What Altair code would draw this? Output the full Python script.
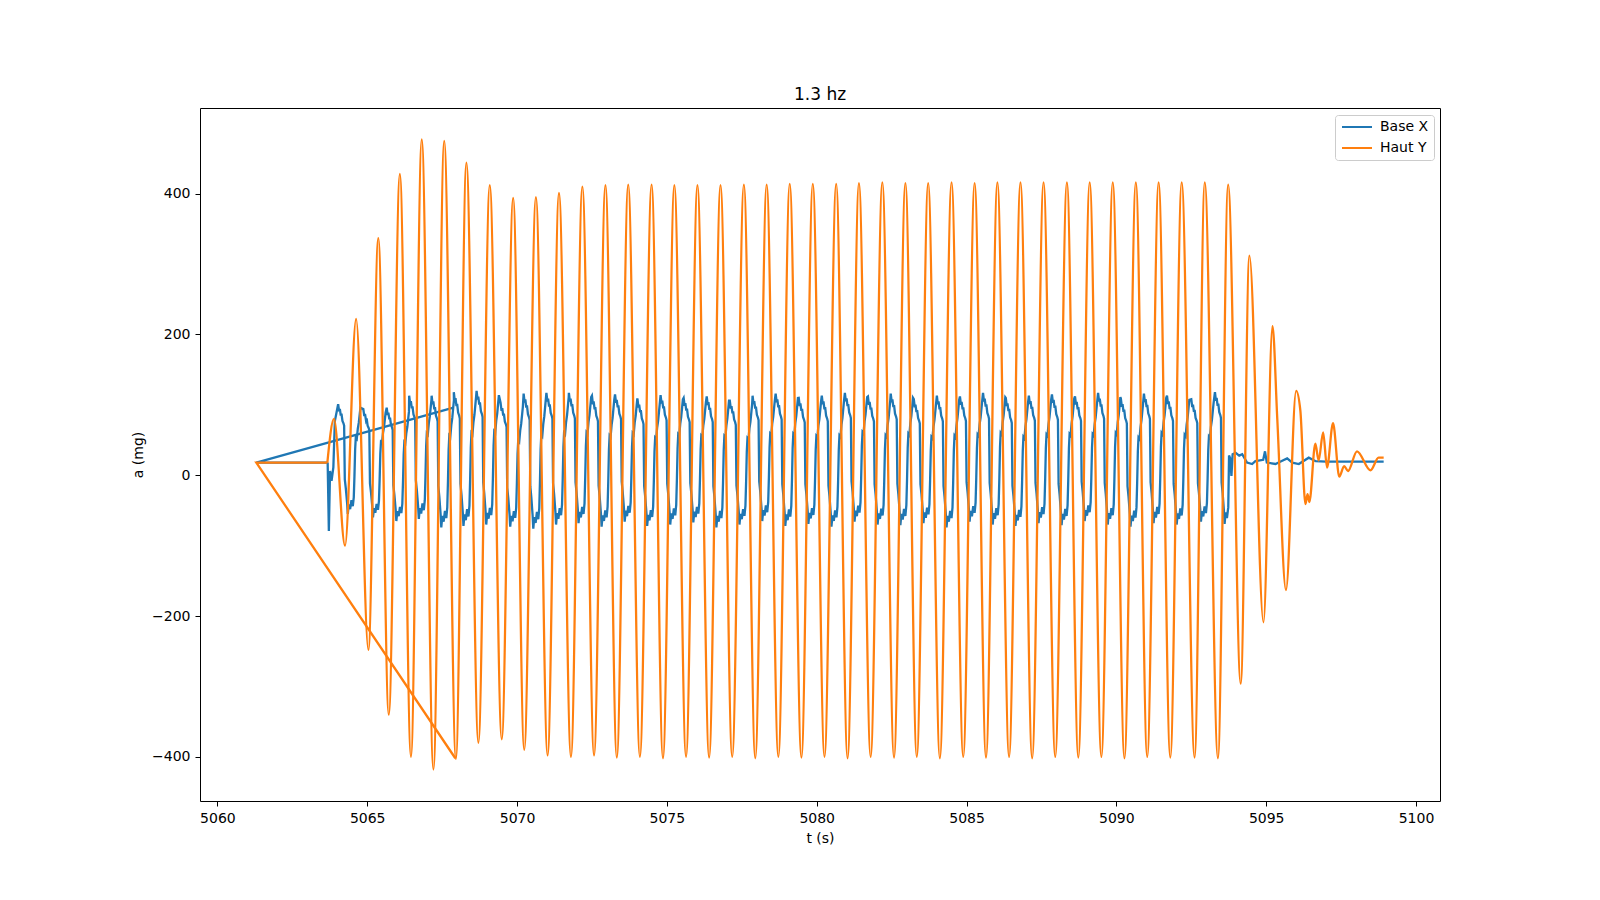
import numpy as np
import pandas as pd
import altair as alt

# axis limits and ticks (matplotlib default 5% margins)
X_LIMITS = [5059.42, 5100.80]
Y_LIMITS = [-462.75, 521.75]
X_TICKS = [5060, 5065, 5070, 5075, 5080, 5085, 5090, 5095, 5100]
Y_TICKS = [-400, -200, 0, 200, 400]

# "Haut Y": extremes of the oscillation
HAUT_T = [5063.67, 5063.89, 5064.26, 5064.63, 5065.04, 5065.37, 5065.72, 5066.09,
          5066.46, 5066.82, 5067.21, 5067.57, 5067.96, 5068.31, 5068.71, 5069.09,
          5069.49, 5069.87, 5070.24, 5070.63, 5071.02, 5071.40, 5071.80, 5072.18,
          5072.57, 5072.95, 5073.33, 5073.71, 5074.10, 5074.49, 5074.87, 5075.25,
          5075.64, 5076.02, 5076.41, 5076.79, 5077.18, 5077.57, 5077.95, 5078.33,
          5078.72, 5079.10, 5079.49, 5079.87, 5080.26, 5080.65, 5081.03, 5081.41,
          5081.80, 5082.19, 5082.58, 5082.96, 5083.34, 5083.72, 5084.11, 5084.50,
          5084.89, 5085.27, 5085.65, 5086.03, 5086.42, 5086.80, 5087.19, 5087.57,
          5087.96, 5088.35, 5088.73, 5089.11, 5089.50, 5089.88, 5090.27, 5090.65,
          5091.03, 5091.41, 5091.80, 5092.18, 5092.61, 5092.95, 5093.39, 5093.73,
          5094.15, 5094.44, 5094.91, 5095.21, 5095.37, 5095.66, 5096.00, 5096.14,
          5096.31, 5096.38, 5096.44, 5096.64, 5096.75, 5096.90, 5097.03, 5097.23,
          5097.44, 5097.60, 5097.73, 5098.03, 5098.48, 5098.75, 5098.92]
HAUT_A = [18, 80, -100, 222, -248, 337, -340, 428,
          -400, 477, -418, 475, -403, 444, -380, 412,
          -375, 394, -390, 395, -398, 401, -400, 410,
          -398, 412, -401, 413, -400, 413, -402, 412,
          -400, 412, -401, 412, -400, 413, -402, 413,
          -400, 414, -401, 414, -400, 414, -402, 415,
          -400, 416, -401, 415, -400, 415, -402, 416,
          -400, 415, -401, 416, -400, 416, -402, 416,
          -400, 416, -401, 416, -400, 416, -402, 416,
          -400, 416, -401, 416, -401, 416, -402, 413,
          -296, 312, -209, 212, 80, -163, 120, 92,
          -41, -27, -38, 45, 21, 61, 11, 74,
          -2, 13, 6, 34, 7, 25, 25]
# the stray jump back to the start of the record
HAUT_JUMP_T = [5067.94, 5061.30, 5063.67]
HAUT_JUMP_A = [-402, 18, 18]

# "Base X": lead-in, one cycle's shape, per-cycle peak times / highs / lows, tail
BASE_LEAD_T = [5063.68, 5063.72, 5063.76, 5063.81, 5063.87, 5063.92]
BASE_LEAD_A = [18, -79, 6, -8, 11, 77]
SHAPE_DT = [0, .033, .056, .089, .111, .144, .178, .2, .222, .256, .3, .322,
            .356, .4, .444, .489, .522, .544, .567, .589, .622, .656, .689, .722, .744]
SHAPE_A = [116, 104, 108, 97, 100, 88, 84, 80, -10, -25, -50, -68,
           -52, -60, -45, -55, -40, -5, 40, 60, 58, 75, 85, 100, 110]
BASE_PEAK_T = [5064.03, 5064.87, 5065.65, 5066.40, 5067.15, 5067.89, 5068.65, 5069.45,
               5070.22, 5070.98, 5071.73, 5072.50, 5073.27, 5074.02, 5074.79, 5075.56,
               5076.33, 5077.10, 5077.86, 5078.63, 5079.40, 5080.17, 5080.94, 5081.71,
               5082.47, 5083.24, 5084.01, 5084.78, 5085.55, 5086.31, 5087.08, 5087.85,
               5088.62, 5089.39, 5090.15, 5090.92, 5091.69, 5092.50, 5093.29]
BASE_HIGH = [101, 94, 96, 113, 113, 118, 120, 103, 116, 117, 117, 113, 115, 108,
             114, 110, 112, 106, 113, 116, 110, 113, 117, 112, 116, 108, 113, 112,
             117, 110, 113, 115, 112, 117, 109, 116, 113, 108, 118]
BASE_LOW = [-55, -60, -65, -62, -74, -72, -70, -73, -76, -70, -68, -73, -66, -72,
            -70, -67, -74, -70, -65, -72, -69, -73, -66, -70, -71, -68, -74, -66,
            -70, -72, -68, -71, -65, -70, -73, -68, -70, -66, -69]
BASE_TAIL_T = [5093.76, 5093.80, 5093.84, 5093.88, 5093.98, 5094.10, 5094.20, 5094.36,
               5094.53, 5094.64, 5094.90, 5094.96, 5095.02, 5095.31, 5095.50, 5095.70,
               5095.87, 5096.09, 5096.42, 5096.65, 5097.00, 5098.92]
BASE_TAIL_A = [28, 24, -1, 30, 32, 28, 30, 18,
               16, 20, 22, 34, 18, 16, 20, 24,
               18, 16, 25, 20, 19.5, 19.5]
BASE_JUMP_T = [5067.88, 5061.30, 5063.68]
BASE_JUMP_A = [96, 18, 18]

# build the Base X trace from the cycle shape
smin, smax = min(SHAPE_A), max(SHAPE_A)
base_t = list(BASE_LEAD_T)
base_a = list(BASE_LEAD_A)
for k, (p, hi, lo) in enumerate(zip(BASE_PEAK_T, BASE_HIGH, BASE_LOW)):
    last = k == len(BASE_PEAK_T) - 1
    for dt, s in zip(SHAPE_DT, SHAPE_A):
        if last and dt > 0.45:
            break
        base_t.append(p + dt)
        base_a.append(lo + (s - smin) / (smax - smin) * (hi - lo))
base_t += BASE_TAIL_T
base_a += BASE_TAIL_A


def frame(t, a, series, part):
    return pd.DataFrame({"t": t, "a": a, "series": series, "part": part,
                         "i": np.arange(len(t))})


data = pd.concat([
    frame(base_t, base_a, "Base X", "main"),
    frame(BASE_JUMP_T, BASE_JUMP_A, "Base X", "jump"),
    frame(HAUT_T, HAUT_A, "Haut Y", "main"),
    frame(HAUT_JUMP_T, HAUT_JUMP_A, "Haut Y", "jump"),
], ignore_index=True)

x_axis = alt.X("t:Q", title="t (s)",
               scale=alt.Scale(domain=X_LIMITS, nice=False, zero=False),
               axis=alt.Axis(values=X_TICKS, format="d", grid=False))
y_axis = alt.Y("a:Q", title="a (mg)",
               scale=alt.Scale(domain=Y_LIMITS, nice=False, zero=False),
               axis=alt.Axis(values=Y_TICKS, format="d", grid=False))
color = alt.Color("series:N",
                  scale=alt.Scale(domain=["Base X", "Haut Y"],
                                  range=["#1f77b4", "#ff7f0e"]),
                  legend=alt.Legend(title=None, orient="none", legendX=1135, legendY=7,
                                    symbolType="M-1,0H5", symbolStrokeWidth=2,
                                    symbolSize=100, labelOffset=26,
                                    labelFontSize=14, labelFont="DejaVu Sans",
                                    labelColor="black", fillColor="white",
                                    strokeColor="#cccccc", padding=5,
                                    cornerRadius=3, rowPadding=7))

base = alt.Chart(data).encode(x=x_axis, y=y_axis, color=color, order="i:Q")


def part(series, kind, interp):
    return base.transform_filter(
        (alt.datum.series == series) & (alt.datum.part == kind)
    ).mark_line(strokeWidth=2.3, interpolate=interp)


chart = alt.layer(
    part("Base X", "main", "linear"),
    part("Base X", "jump", "linear"),
    part("Haut Y", "main", "monotone"),
    part("Haut Y", "jump", "linear"),
).properties(
    width=1240, height=693,
    title=alt.TitleParams("1.3 hz", fontSize=17, font="DejaVu Sans",
                          fontWeight="normal", offset=4, anchor="middle", color="black"),
    autosize=alt.AutoSizeParams(type="none"),
    padding={"left": 192, "top": 100, "right": 152, "bottom": 91},
).configure_view(
    stroke="black", strokeWidth=1
).configure_axis(
    domain=False, tickColor="black", tickSize=5, labelPadding=5,
    labelFont="DejaVu Sans", labelFontSize=14, labelColor="black",
    titleFont="DejaVu Sans", titleFontSize=14, titleFontWeight="normal",
    titleColor="black", titlePadding=6
)

chart.save("out.html", embed_options={"renderer": "svg", "actions": False})
